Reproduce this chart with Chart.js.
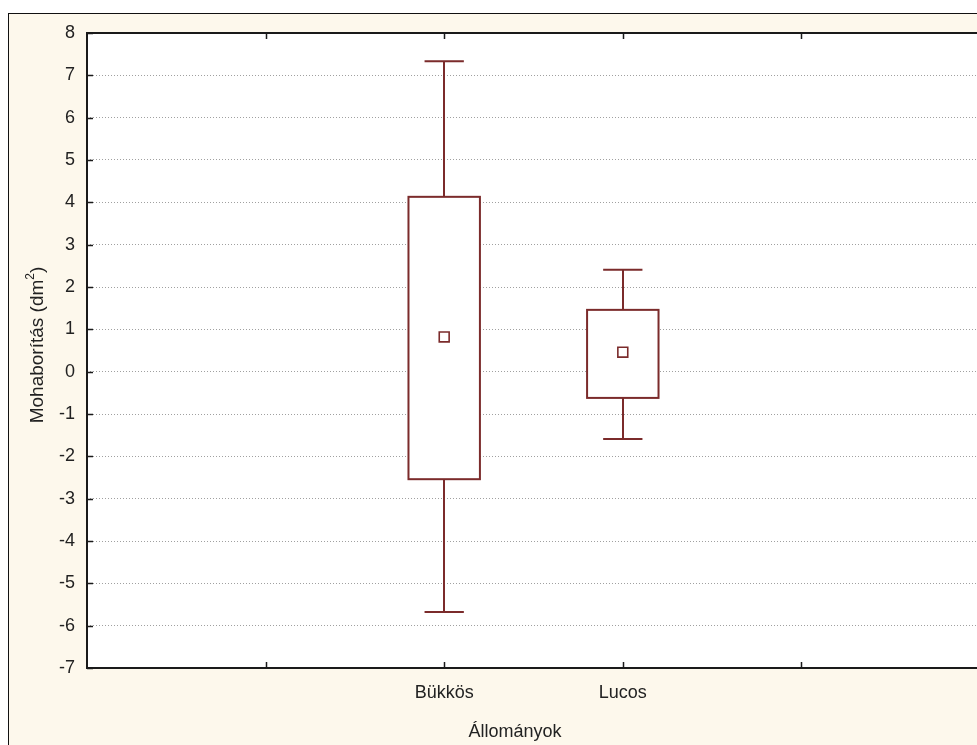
<!DOCTYPE html>
<html>
<head>
<meta charset="utf-8">
<script src="https://cdn.jsdelivr.net/npm/chart.js@4/dist/chart.umd.min.js"></script>
<style>
  html, body { margin: 0; padding: 0; background: #fff; overflow: hidden; width: 977px; height: 745px; }
  #frame { position: absolute; left: 8px; top: 13px; width: 990px; height: 740px; border: 1px solid #111; background: #fdf8ec; }
  #chart { position: absolute; left: 0; top: 0; }
</style>
</head>
<body>
<div id="frame"><canvas id="chart" width="990" height="740"></canvas></div>
<script>
// slot labels on the x axis (positions 1..4), only two are used
const slotLabels = ['', 'Bükkös', 'Lucos', ''];
const categories = ['Bükkös', 'Lucos'];
const means = [0.82, 0.46];
const boxLow = [-2.54, -0.62];
const boxHigh = [4.13, 1.46];
const whiskLow = [-5.68, -1.59];
const whiskHigh = [7.33, 2.41];
const yTicks = [-7, -6, -5, -4, -3, -2, -1, 0, 1, 2, 3, 4, 5, 6, 7, 8];

const MAROON = '#7b2b2b';
const FONT = 'Liberation Sans, Arial, sans-serif';

function slotOf(cat) { return slotLabels.indexOf(cat) + 1; }

const boxPlot = {
  id: 'boxPlot',
  beforeDraw(chart) {
    const { ctx, chartArea: a } = chart;
    ctx.save();
    ctx.fillStyle = '#fff';
    ctx.fillRect(a.left, a.top, a.right - a.left, a.bottom - a.top);
    ctx.restore();
  },
  beforeDatasetsDraw(chart) {
    const { ctx, scales: { x, y } } = chart;
    ctx.save();
    ctx.strokeStyle = MAROON;
    ctx.lineWidth = 2;
    categories.forEach((c, i) => {
      const p = slotOf(c);
      const cx = Math.round(x.getPixelForValue(p));
      const bl = x.getPixelForValue(p - 0.2), br = x.getPixelForValue(p + 0.2);
      const cl = x.getPixelForValue(p - 0.11), cr = x.getPixelForValue(p + 0.11);
      const yt = y.getPixelForValue(boxHigh[i]), yb = y.getPixelForValue(boxLow[i]);
      const wt = y.getPixelForValue(whiskHigh[i]), wb = y.getPixelForValue(whiskLow[i]);
      ctx.fillStyle = '#fff';
      ctx.fillRect(bl, yt, br - bl, yb - yt);
      ctx.strokeRect(bl, yt, br - bl, yb - yt);
      ctx.beginPath();
      ctx.moveTo(cx, yt); ctx.lineTo(cx, wt);
      ctx.moveTo(cl, wt); ctx.lineTo(cr, wt);
      ctx.moveTo(cx, yb); ctx.lineTo(cx, wb);
      ctx.moveTo(cl, wb); ctx.lineTo(cr, wb);
      ctx.stroke();
    });
    ctx.restore();
  },
  afterDraw(chart) {
    const { ctx, chartArea: a, scales: { x, y } } = chart;
    ctx.save();
    ctx.strokeStyle = '#1a1a1a';
    ctx.lineWidth = 2;
    ctx.strokeRect(a.left, a.top, a.right - a.left, a.bottom - a.top);
    ctx.beginPath();
    yTicks.forEach(v => {
      const py = Math.round(y.getPixelForValue(v)) + 0.5;
      ctx.moveTo(a.left, py); ctx.lineTo(a.left + 6, py);
    });
    [1, 2, 3, 4].forEach(v => {
      const px = Math.round(x.getPixelForValue(v)) + 0.5;
      ctx.moveTo(px, a.bottom); ctx.lineTo(px, a.bottom - 6);
      ctx.moveTo(px, a.top); ctx.lineTo(px, a.top + 6);
    });
    ctx.lineWidth = 1.5;
    ctx.stroke();
    ctx.fillStyle = '#222';
    ctx.textBaseline = 'middle';
    // x axis title
    ctx.font = '18px ' + FONT;
    ctx.textAlign = 'center';
    ctx.fillText('Állományok', 506, 718);
    // y axis title with a raised superscript
    const main = 'Mohaborítás (dm', sup = '2', tail = ')';
    ctx.font = '19px ' + FONT;
    const w1 = ctx.measureText(main).width, w3 = ctx.measureText(tail).width;
    ctx.font = '12px ' + FONT;
    const w2 = ctx.measureText(sup).width;
    const total = w1 + w2 + w3;
    ctx.translate(29, 331);
    ctx.rotate(-Math.PI / 2);
    ctx.textAlign = 'left';
    let sx = -total / 2;
    ctx.font = '19px ' + FONT;
    ctx.fillText(main, sx, 0);
    sx += w1;
    ctx.font = '12px ' + FONT;
    ctx.fillText(sup, sx, -7);
    sx += w2;
    ctx.font = '19px ' + FONT;
    ctx.fillText(tail, sx, 0);
    ctx.restore();
  }
};

new Chart(document.getElementById('chart'), {
  type: 'scatter',
  data: {
    datasets: [{
      data: categories.map((c, i) => ({ x: slotOf(c), y: means[i] })),
      pointStyle: 'rect',
      pointRadius: 7,
      pointHoverRadius: 7,
      borderColor: MAROON,
      backgroundColor: '#fff',
      borderWidth: 1.6
    }]
  },
  options: {
    responsive: false,
    devicePixelRatio: 1,
    animation: false,
    events: [],
    layout: { padding: { top: 19, right: 19, bottom: 0, left: 0 } },
    plugins: { legend: { display: false }, tooltip: { enabled: false } },
    scales: {
      x: {
        type: 'linear', min: 0, max: 5,
        afterFit: (s) => { s.height = 86; s.paddingLeft = 0; s.paddingRight = 0; },
        afterBuildTicks: (s) => { s.ticks = [1, 2, 3, 4].map(v => ({ value: v })); },
        grid: { display: false, drawTicks: false },
        border: { display: false },
        ticks: {
          padding: 14, color: '#222', font: { family: FONT, size: 18 },
          autoSkip: false, maxRotation: 0,
          callback: (v) => slotLabels[v - 1] || ''
        }
      },
      y: {
        min: -7, max: 8,
        afterFit: (s) => { s.width = 78; s.paddingTop = 0; s.paddingBottom = 0; },
        afterBuildTicks: (s) => { s.ticks = yTicks.map(v => ({ value: v })); },
        grid: {
          drawTicks: false, color: (c) => (c.tick && (c.tick.value === 8 || c.tick.value === -7)) ? 'rgba(0,0,0,0)' : '#a0a0a0',
          lineWidth: 1
        },
        border: { display: false, dash: [1, 2] },
        ticks: { padding: 12, color: '#222', font: { family: FONT, size: 18 } }
      }
    }
  },
  plugins: [boxPlot]
});
</script>
</body>
</html>
